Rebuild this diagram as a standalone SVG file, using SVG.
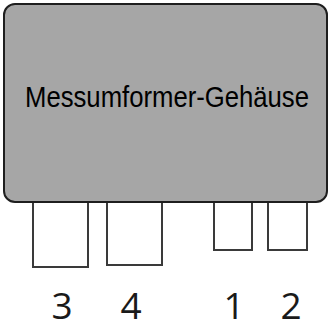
<svg xmlns="http://www.w3.org/2000/svg" width="330" height="328" viewBox="0 0 330 328">
  <style>
    .port { fill: #ffffff; stroke: #3a3a3a; stroke-width: 2; }
    .housing { fill: #a6a6a6; stroke: #1e1e1e; stroke-width: 2; }
    .title { font-family: "Liberation Sans", Arial, sans-serif; font-size: 30px; fill: #000000; }
    .num { font-family: "Open Sans", "Noto Sans", sans-serif; font-size: 37px; fill: #1a1a1a; text-anchor: middle; }
  </style>
  <!-- terminal blocks below the housing -->
  <g id="port-3">
    <rect class="port" x="33" y="196" width="55" height="71"/>
  </g>
  <g id="port-4">
    <rect class="port" x="107" y="196" width="55" height="69"/>
  </g>
  <g id="port-1">
    <rect class="port" x="214" y="196" width="38" height="54"/>
  </g>
  <g id="port-2">
    <rect class="port" x="268" y="196" width="39" height="54"/>
  </g>
  <!-- housing -->
  <g id="housing">
    <rect class="housing" x="4" y="4" width="323" height="198" rx="11" ry="11"/>
    <text class="title" x="25" y="106.5" textLength="284" lengthAdjust="spacingAndGlyphs">Messumformer-Gehäuse</text>
  </g>
  <!-- terminal numbers -->
  <g id="labels">
    <text class="num" x="62" y="319">3</text>
    <text class="num" x="131" y="319">4</text>
    <text class="num" x="234" y="319">1</text>
    <text class="num" x="291" y="319">2</text>
  </g>
  <g id="connectors"/>
</svg>
